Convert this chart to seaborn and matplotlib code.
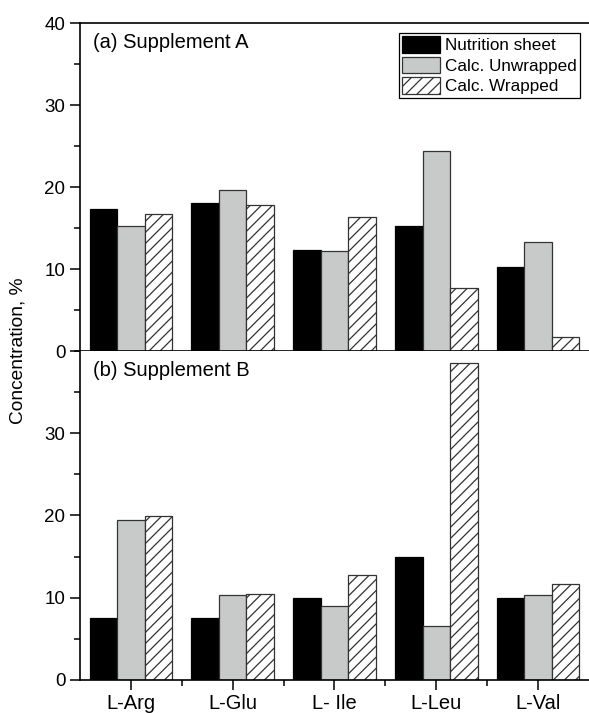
import pandas as pd
import numpy as np
import matplotlib
matplotlib.use("Agg")
import matplotlib.pyplot as plt
from matplotlib.ticker import MultipleLocator, FixedLocator
import seaborn as sns

amino_acids = ["L-Arg", "L-Glu", "L- Ile", "L-Leu", "L-Val"]
series_names = ["Nutrition sheet", "Calc. Unwrapped", "Calc. Wrapped"]

# Supplement A
a_sheet = [17.3, 18.0, 12.3, 15.3, 10.3]
a_unwrapped = [15.3, 19.6, 12.2, 24.4, 13.3]
a_wrapped = [16.7, 17.8, 16.4, 7.7, 1.7]

# Supplement B
b_sheet = [7.5, 7.5, 10.0, 15.0, 10.0]
b_unwrapped = [19.5, 10.3, 9.0, 6.6, 10.3]
b_wrapped = [19.9, 10.5, 12.8, 38.5, 11.7]

def to_long(sheet, unwrapped, wrapped):
    rows = []
    for name, vals in zip(series_names, [sheet, unwrapped, wrapped]):
        for aa, v in zip(amino_acids, vals):
            rows.append({"amino": aa, "series": name, "conc": v})
    return pd.DataFrame(rows)

df_a = to_long(a_sheet, a_unwrapped, a_wrapped)
df_b = to_long(b_sheet, b_unwrapped, b_wrapped)

sns.set_style("ticks")
plt.rcParams["font.family"] = ["Liberation Sans", "DejaVu Sans"]
plt.rcParams["text.color"] = "black"
plt.rcParams["axes.labelcolor"] = "black"
plt.rcParams["xtick.color"] = "black"
plt.rcParams["ytick.color"] = "black"
plt.rcParams["hatch.linewidth"] = 0.9
plt.rcParams["hatch.color"] = "#222222"

fig = plt.figure(figsize=(5.89, 7.13), dpi=100)
ax_a = fig.add_axes([0.1358, 0.5077, 0.8642, 0.4600])
ax_b = fig.add_axes([0.1358, 0.0463, 0.8642, 0.4614])

styles = [
    dict(facecolor="black", edgecolor="black", hatch=None),
    dict(facecolor="#c8c9c9", edgecolor="#333333", hatch=None),
    dict(facecolor="white", edgecolor="#333333", hatch="///"),
]

for ax, df, label in [(ax_a, df_a, "(a) Supplement A"), (ax_b, df_b, "(b) Supplement B")]:
    sns.barplot(data=df, x="amino", y="conc", hue="series", hue_order=series_names,
                order=amino_acids, palette=["black", "#c8c9c9", "white"],
                saturation=1, width=0.81, ax=ax, legend=False, errorbar=None)
    for cont, st in zip(ax.containers, styles):
        for p in cont.patches:
            p.set_facecolor(st["facecolor"])
            p.set_edgecolor(st["edgecolor"])
            p.set_linewidth(0.9)
            if st["hatch"]:
                p.set_hatch(st["hatch"])
    ax.set_xlim(-0.5, 4.5)
    ax.set_ylim(0, 40)
    ax.set_xlabel("")
    ax.set_ylabel("")
    ax.yaxis.set_minor_locator(MultipleLocator(5))
    ax.xaxis.set_minor_locator(FixedLocator(np.arange(0.5, 4.5, 1.0)))
    ax.tick_params(axis="both", which="major", direction="out", length=7, width=1.1,
                   labelsize=13.5, color="black", labelcolor="black")
    ax.tick_params(axis="x", which="major", labelsize=14.5)
    ax.tick_params(axis="both", which="minor", direction="out", length=4, width=1.1, color="black")
    for side in ["left", "bottom", "top"]:
        ax.spines[side].set_linewidth(1.2)
        ax.spines[side].set_color("black")
    ax.spines["right"].set_visible(False)
    ax.text(0.025, 0.94, label, transform=ax.transAxes, fontsize=14.5, va="center", ha="left")

ax_b.spines["top"].set_visible(False)
ax_a.set_yticks([0, 10, 20, 30, 40])
ax_b.set_yticks([0, 10, 20, 30])
ax_a.tick_params(axis="x", labelbottom=False)
ax_b.tick_params(axis="x", pad=3)

ax_a.legend(ax_a.containers, series_names, loc="upper right", bbox_to_anchor=(0.982, 0.97),
            borderaxespad=0, fontsize=12.3, frameon=True, fancybox=False, edgecolor="black",
            framealpha=1, handlelength=2.2, handleheight=1.12, labelspacing=0.2,
            borderpad=0.2, handletextpad=0.3)
ax_a.get_legend().get_frame().set_linewidth(0.9)

fig.text(0.03, 0.5077, "Concentration, %", rotation=90, fontsize=13.8, va="center", ha="center")

plt.savefig("out.png", dpi=100)
plt.close()
